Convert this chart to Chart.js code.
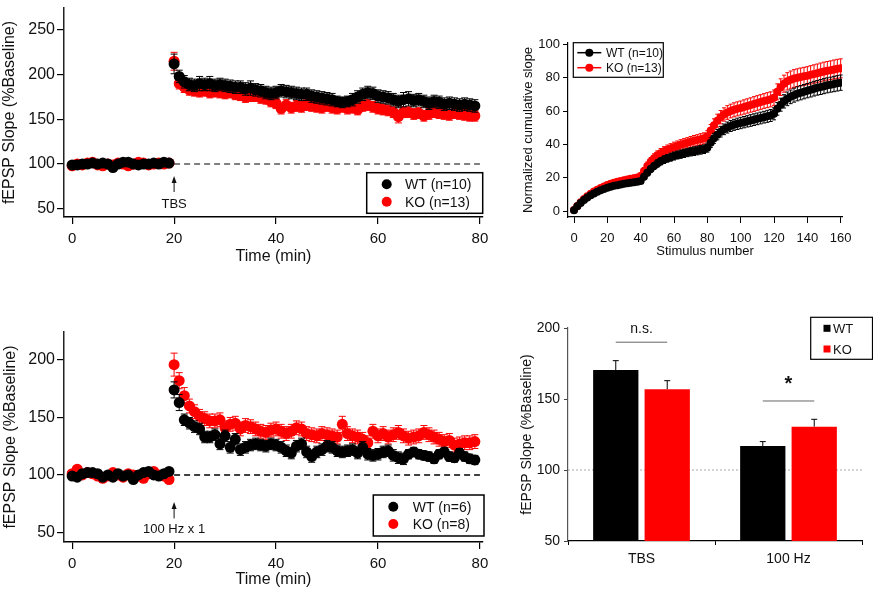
<!DOCTYPE html>
<html>
<head>
<meta charset="utf-8">
<script src="https://cdn.jsdelivr.net/npm/chart.js@4"></script>
<style>
  body { margin: 0; background: #fff; }
  #wrap { position: relative; width: 873px; height: 594px; overflow: hidden; }
  canvas { position: absolute; }
</style>
</head>
<body>
<div id="wrap">
  <canvas id="tbs" width="500" height="270" style="left:0;top:0"></canvas>
  <canvas id="cum" width="373" height="270" style="left:500px;top:0"></canvas>
  <canvas id="hfs" width="500" height="294" style="left:0;top:300px"></canvas>
  <canvas id="bars" width="373" height="294" style="left:500px;top:300px"></canvas>
</div>
<script>
// ---- data ----
const minutes = [
  0, 1, 2, 3, 4, 5, 6, 7, 8, 9, 10, 11, 12, 13, 14, 15, 16, 17, 18, 19,
  20, 21, 22, 23, 24, 25, 26, 27, 28, 29, 30, 31, 32, 33, 34, 35, 36, 37, 38, 39,
  40, 41, 42, 43, 44, 45, 46, 47, 48, 49, 50, 51, 52, 53, 54, 55, 56, 57, 58, 59,
  60, 61, 62, 63, 64, 65, 66, 67, 68, 69, 70, 71, 72, 73, 74, 75, 76, 77, 78, 79
];
const timeTicks = [0, 20, 40, 60, 80];
const baselineValue = 100;
const baselineSpan = [20, 80];

// TBS LTP (top left)
const tbsWT = [
  99, 99, 100, 100, 101, 100, 101, 100, 96, 100, 102, 102, 100, 99, 100, 100, 101, 100, 102, 101,
  212, 198, 192, 189, 188, 190, 189, 190, 188, 189, 188, 187, 186, 186, 184, 185, 183, 182, 180, 179,
  180, 182, 181, 180, 179, 178, 178, 176, 175, 174, 173, 172, 170, 169, 170, 172, 175, 178, 180, 179,
  176, 175, 174, 172, 170, 172, 173, 171, 172, 170, 168, 170, 169, 167, 168, 167, 166, 167, 166, 165
];
const tbsWTsem = [
  2, 2, 2, 2, 2, 2, 2, 2, 2, 2, 2, 2, 2, 2, 2, 2, 2, 2, 2, 2,
  11, 7, 7, 7, 7, 8, 7, 8, 7, 7, 7, 7, 7, 7, 7, 8, 7, 7, 7, 7,
  7, 7, 7, 7, 7, 7, 7, 7, 7, 7, 7, 7, 6, 6, 6, 7, 7, 7, 7, 7,
  7, 7, 7, 7, 7, 8, 8, 7, 7, 7, 7, 7, 7, 7, 7, 7, 7, 7, 7, 7
];
const tbsKO = [
  98, 100, 99, 101, 102, 99, 98, 100, 99, 101, 100, 98, 100, 102, 101, 99, 100, 101, 100, 101,
  215, 190, 186, 183, 182, 181, 182, 180, 181, 180, 179, 180, 178, 177, 175, 176, 176, 174, 173, 170,
  168, 162, 166, 163, 165, 164, 166, 165, 164, 163, 165, 163, 162, 164, 162, 163, 161, 165, 166, 164,
  162, 161, 160, 158, 153, 158, 158, 156, 157, 154, 156, 158, 157, 156, 155, 157, 156, 155, 154, 154
];
const tbsKOsem = [
  2, 2, 2, 2, 2, 2, 2, 2, 2, 2, 2, 2, 2, 2, 2, 2, 2, 2, 2, 2,
  10, 6, 6, 6, 6, 6, 6, 6, 6, 6, 6, 6, 6, 6, 6, 6, 6, 6, 6, 6,
  6, 6, 6, 6, 6, 6, 6, 6, 6, 6, 6, 6, 6, 6, 6, 6, 6, 6, 6, 6,
  6, 6, 6, 6, 7, 6, 6, 6, 6, 6, 6, 6, 6, 6, 6, 6, 6, 6, 6, 6
];
const tbsYTicks = [50, 100, 150, 200, 250];

// 100 Hz LTP (bottom left)
const hfsWT = [
  99, 98, 101, 102, 102, 101, 98, 100, 98, 101, 99, 100, 96, 100, 102, 103, 100, 99, 101, 103,
  174, 163, 148, 145, 142, 140, 133, 133, 135, 127, 134, 124, 131, 122, 124, 126, 127, 126, 125, 127,
  126, 124, 121, 119, 125, 127, 120, 116, 120, 122, 125, 124, 121, 120, 121, 122, 119, 124, 118, 117,
  118, 120, 121, 117, 115, 114, 118, 120, 118, 117, 116, 114, 118, 120, 116, 115, 119, 116, 114, 113
];
const hfsWTsem = [
  2, 2, 2, 2, 2, 2, 2, 2, 2, 2, 2, 2, 2, 2, 2, 2, 2, 2, 2, 2,
  7, 7, 5, 5, 5, 5, 5, 5, 5, 5, 5, 5, 5, 5, 5, 5, 5, 5, 5, 5,
  5, 5, 5, 5, 5, 5, 5, 5, 5, 5, 5, 5, 5, 5, 5, 5, 5, 5, 5, 5,
  5, 5, 5, 5, 5, 5, 4, 4, 4, 4, 4, 4, 4, 4, 4, 4, 4, 4, 4, 4
];
const hfsKO = [
  101, 105, 100, 102, 101, 99, 97, 99, 102, 100, 98, 101, 100, 99, 97, 101, 103, 100, 99, 96,
  196, 182, 169, 160, 155, 151, 149, 147, 147, 148, 141, 144, 145, 140, 143, 142, 140, 138, 137, 139,
  140, 138, 136, 138, 141, 140, 136, 135, 134, 136, 135, 134, 133, 144, 136, 134, 133, 131, 128, 138,
  134, 136, 133, 135, 137, 134, 132, 133, 134, 137, 135, 133, 131, 129, 130, 126, 127, 128, 128, 129
];
const hfsKOsem = [
  2, 2, 2, 2, 2, 2, 2, 2, 2, 2, 2, 2, 2, 2, 2, 2, 2, 2, 2, 2,
  10, 7, 7, 6, 6, 6, 6, 6, 6, 6, 6, 6, 6, 6, 6, 6, 6, 6, 6, 6,
  6, 6, 6, 6, 6, 6, 6, 6, 6, 6, 6, 6, 6, 7, 6, 6, 6, 6, 6, 6,
  6, 6, 6, 6, 6, 6, 6, 6, 6, 6, 6, 6, 6, 6, 6, 6, 6, 6, 6, 6
];
const hfsYTicks = [50, 100, 150, 200];

// cumulative slope during TBS (top right)
const stimNumber = [
  0, 2, 4, 6, 8, 10, 12, 14, 16, 18,
  20, 22, 24, 26, 28, 30, 32, 34, 36, 38,
  40, 42, 44, 46, 48, 50, 52, 54, 56, 58,
  60, 62, 64, 66, 68, 70, 72, 74, 76, 78,
  80, 82, 84, 86, 88, 90, 92, 94, 96, 98,
  100, 102, 104, 106, 108, 110, 112, 114, 116, 118,
  120, 122, 124, 126, 128, 130, 132, 134, 136, 138,
  140, 142, 144, 146, 148, 150, 152, 154, 156, 158,
  160
];
const cumWT = [
  0.5, 2.8, 4.8, 6.6, 8.1, 9.4, 10.5, 11.5, 12.4, 13.2,
  14, 14.6, 15.1, 15.5, 15.9, 16.3, 16.6, 16.9, 17.2, 17.5,
  18, 20.5, 23, 25.2, 27, 28.5, 29.8, 30.8, 31.6, 32.3,
  33, 33.6, 34.1, 34.6, 35.1, 35.5, 35.9, 36.3, 36.7, 37.1,
  38, 41, 43.6, 45.8, 47.6, 49, 50.1, 51, 51.7, 52.3,
  52.8, 53.3, 53.8, 54.3, 54.8, 55.3, 55.8, 56.3, 56.8, 57.3,
  58.3, 61.3, 63.8, 65.8, 67.3, 68.5, 69.5, 70.3, 71, 71.6,
  72.2, 72.8, 73.4, 73.9, 74.4, 74.9, 75.4, 75.8, 76.2, 76.6,
  77
];
const cumWTsem = [
  0.2, 0.4, 0.5, 0.6, 0.7, 0.8, 0.9, 1.0, 1.0, 1.1,
  1.1, 1.2, 1.2, 1.3, 1.3, 1.4, 1.4, 1.4, 1.5, 1.5,
  1.5, 1.7, 1.9, 2.0, 2.1, 2.2, 2.2, 2.3, 2.3, 2.4,
  2.4, 2.4, 2.5, 2.5, 2.5, 2.5, 2.6, 2.6, 2.6, 2.6,
  2.7, 2.9, 3.0, 3.1, 3.2, 3.2, 3.3, 3.3, 3.3, 3.4,
  3.4, 3.4, 3.4, 3.5, 3.5, 3.5, 3.5, 3.5, 3.6, 3.6,
  3.6, 3.8, 3.9, 4.0, 4.1, 4.1, 4.2, 4.2, 4.3, 4.3,
  4.3, 4.4, 4.4, 4.4, 4.5, 4.5, 4.5, 4.5, 4.6, 4.6,
  4.6
];
const cumKO = [
  0.6, 3, 5.2, 7.2, 8.9, 10.4, 11.7, 12.8, 13.8, 14.7,
  15.6, 16.3, 16.9, 17.5, 18, 18.5, 18.9, 19.3, 19.7, 20.1,
  21, 24, 27, 29.6, 31.7, 33.4, 34.7, 35.8, 36.7, 37.5,
  38.3, 39, 39.7, 40.3, 40.9, 41.5, 42.1, 42.6, 43.1, 43.6,
  44.8, 48.3, 51.5, 54.2, 56.3, 57.9, 59.1, 60, 60.7, 61.3,
  61.8, 62.4, 63, 63.6, 64.2, 64.8, 65.4, 66, 66.5, 67,
  68, 71.5, 74.3, 76.4, 77.8, 78.8, 79.5, 80, 80.4, 80.8,
  81.2, 81.7, 82.2, 82.7, 83.2, 83.7, 84.1, 84.5, 84.9, 85.3,
  85.6
];
const cumKOsem = [
  0.2, 0.5, 0.6, 0.8, 0.9, 1.0, 1.1, 1.2, 1.3, 1.3,
  1.4, 1.5, 1.5, 1.6, 1.6, 1.7, 1.7, 1.8, 1.8, 1.8,
  1.9, 2.1, 2.4, 2.5, 2.6, 2.7, 2.8, 2.8, 2.9, 2.9,
  3.0, 3.0, 3.1, 3.1, 3.1, 3.2, 3.2, 3.2, 3.3, 3.3,
  3.4, 3.6, 3.8, 3.9, 4.0, 4.0, 4.1, 4.1, 4.2, 4.2,
  4.2, 4.3, 4.3, 4.3, 4.4, 4.4, 4.4, 4.4, 4.5, 4.5,
  4.6, 4.8, 5.0, 5.1, 5.2, 5.2, 5.3, 5.3, 5.4, 5.4,
  5.4, 5.5, 5.5, 5.5, 5.6, 5.6, 5.6, 5.6, 5.7, 5.7,
  5.7
];
const stimTicks = [0, 20, 40, 60, 80, 100, 120, 140, 160];
const cumYTicks = [0, 20, 40, 60, 80, 100];

// summary bars (bottom right)
const protocols = ['TBS', '100 Hz'];
const barWT = [170.4, 116.9];
const barWTsem = [6.6, 3.1];
const barKO = [156.8, 130.5];
const barKOsem = [6.1, 5.2];
const barYTicks = [50, 100, 150, 200];
const sigLabels = ['n.s.', '*'];

// ---- drawing ----
const BLACK = '#000000';
const RED = '#ff0000';
const FONT = 'Arial, "Liberation Sans", Helvetica, sans-serif';
Chart.defaults.font.family = FONT;
Chart.defaults.color = '#111';

const pts = (xs, ys) => xs.map((x, i) => ({ x: x, y: ys[i] }));
const fixTicks = list => scale => { scale.ticks = list.map(v => ({ value: v })); };
const fixWidth = w => scale => { scale.width = w; scale.paddingTop = 0; scale.paddingBottom = 0; };
const fixHeight = h => scale => { scale.height = h; scale.paddingLeft = 0; scale.paddingRight = 0; };

// error bars drawn just before each dataset, so markers sit on top
const errorBars = {
  id: 'errorBars',
  beforeDatasetDraw(chart, args) {
    const ds = chart.data.datasets[args.index];
    if (!ds.errors) return;
    const ctx = chart.ctx;
    const ys = chart.scales.y;
    const half = ds.capWidth / 2;
    ctx.save();
    ctx.strokeStyle = ds.errorColor || ds.backgroundColor;
    ctx.lineWidth = 1;
    ctx.beginPath();
    args.meta.data.forEach((el, i) => {
      const v = args.meta.controller.getParsed(i).y;
      const e = ds.errors[i];
      const top = ys.getPixelForValue(v + e);
      const bot = ds.upOnly ? ys.getPixelForValue(v) : ys.getPixelForValue(v - e);
      ctx.moveTo(el.x, bot); ctx.lineTo(el.x, top);
      ctx.moveTo(el.x - half, top); ctx.lineTo(el.x + half, top);
      if (!ds.upOnly) { ctx.moveTo(el.x - half, bot); ctx.lineTo(el.x + half, bot); }
    });
    ctx.stroke();
    ctx.restore();
  }
};

function drawLegend(chart, L) {
  const ctx = chart.ctx;
  ctx.save();
  ctx.strokeStyle = '#000';
  ctx.lineWidth = L.lw;
  ctx.strokeRect(L.box[0], L.box[1], L.box[2] - L.box[0], L.box[3] - L.box[1]);
  ctx.font = L.font;
  ctx.textBaseline = 'middle';
  ctx.textAlign = 'left';
  L.rows.forEach((y, i) => {
    const ds = chart.data.datasets[i];
    ctx.fillStyle = ds.backgroundColor;
    ctx.strokeStyle = ds.backgroundColor;
    if (L.marker === 'square') {
      ctx.fillRect(L.mx - L.r, y - L.r, 2 * L.r, 2 * L.r);
    } else {
      if (L.marker === 'line') {
        ctx.lineWidth = 1.5;
        ctx.beginPath(); ctx.moveTo(L.mx - 12, y); ctx.lineTo(L.mx + 12, y); ctx.stroke();
      }
      ctx.beginPath(); ctx.arc(L.mx, y, L.r, 0, Math.PI * 2); ctx.fill();
    }
    ctx.fillStyle = '#111';
    ctx.fillText(ds.label, L.tx, y + 1);
  });
  ctx.restore();
}

function timeCourse(id, wt, wtSem, ko, koSem, o) {
  const extras = {
    id: 'extras',
    afterDatasetsDraw(chart) {
      const ctx = chart.ctx;
      const px = chart.scales.x.getPixelForValue(baselineSpan[0]);
      const base = chart.scales.y.getPixelForValue(baselineValue);
      ctx.save();
      ctx.strokeStyle = '#111';
      ctx.fillStyle = '#111';
      ctx.lineWidth = 1;
      ctx.beginPath();
      ctx.moveTo(px, base + o.arrow[1]); ctx.lineTo(px, base + o.arrow[0] + 5);
      ctx.stroke();
      ctx.beginPath();
      ctx.moveTo(px, base + o.arrow[0]);
      ctx.lineTo(px - 2.5, base + o.arrow[0] + 7);
      ctx.lineTo(px + 2.5, base + o.arrow[0] + 7);
      ctx.closePath(); ctx.fill();
      ctx.font = '13px ' + FONT;
      ctx.textAlign = 'center';
      ctx.textBaseline = 'middle';
      ctx.fillText(o.stim, px, base + o.arrow[2]);
      ctx.restore();
      drawLegend(chart, o.legend);
    }
  };
  return new Chart(document.getElementById(id), {
    type: 'scatter',
    data: {
      datasets: [
        { label: o.labels[0], data: pts(minutes, wt), errors: wtSem, capWidth: 7,
          backgroundColor: BLACK, borderColor: BLACK, pointRadius: 5.5, pointBorderWidth: 0 },
        { label: o.labels[1], data: pts(minutes, ko), errors: koSem, capWidth: 7,
          backgroundColor: RED, borderColor: RED, pointRadius: 5.5, pointBorderWidth: 0 },
        { label: 'baseline', data: pts(baselineSpan, [baselineValue, baselineValue]),
          showLine: true, pointRadius: 0, borderColor: o.dashColor, borderWidth: 1.5,
          borderDash: [6, 4] }
      ]
    },
    options: {
      responsive: false,
      animation: false,
      devicePixelRatio: 1,
      events: [],
      layout: { padding: { left: 0, top: o.top, right: 17, bottom: 0 } },
      plugins: { legend: { display: false }, tooltip: { enabled: false } },
      scales: {
        x: {
          type: 'linear', min: -1.6, max: 80.6,
          afterBuildTicks: fixTicks(timeTicks),
          afterFit: fixHeight(o.xh),
          grid: { drawOnChartArea: false, color: '#000', tickLength: 7, lineWidth: 1.2 },
          border: { color: '#000', width: 1.5 },
          ticks: { font: { size: 15 }, color: '#111', padding: 6, maxRotation: 0 },
          title: { display: true, text: 'Time (min)', font: { size: 16 }, color: '#111',
                   padding: { top: 0, bottom: o.xtPad } }
        },
        y: {
          min: o.ymin, max: o.ymax,
          afterBuildTicks: fixTicks(o.yticks),
          afterFit: fixWidth(64),
          grid: { drawOnChartArea: false, color: '#000', tickLength: 7, lineWidth: 1.2 },
          border: { color: '#222', width: 1.5 },
          ticks: { font: { size: 16 }, color: '#111', padding: 2 },
          title: { display: true, text: 'fEPSP Slope (%Baseline)', font: { size: 16 }, color: '#111',
                   padding: { top: o.ytPad, bottom: 0 } }
        }
      }
    },
    plugins: [errorBars, extras]
  });
}

timeCourse('tbs', tbsWT, tbsWTsem, tbsKO, tbsKOsem, {
  labels: ['WT (n=10)', 'KO (n=13)'],
  top: 8, xh: 53, xtPad: 3.4, ytPad: 0.4,
  ymin: 40.7, ymax: 274.6, yticks: tbsYTicks,
  dashColor: '#555', stim: 'TBS', arrow: [12, 28, 40],
  legend: { box: [366.7, 172.7, 482.7, 213.3], rows: [184.3, 201.7], mx: 386.7, tx: 405,
            r: 5, lw: 1.5, font: '14px ' + FONT, marker: 'circle' }
});

timeCourse('hfs', hfsWT, hfsWTsem, hfsKO, hfsKOsem, {
  labels: ['WT (n=6)', 'KO (n=8)'],
  top: 32, xh: 52, xtPad: 5.1, ytPad: 1.4,
  ymin: 41.6, ymax: 224.4, yticks: hfsYTicks,
  dashColor: '#000', stim: '100 Hz x 1', arrow: [27, 43.5, 54.5],
  legend: { box: [373.3, 195, 484, 236], rows: [206.7, 224], mx: 393.3, tx: 412.7,
            r: 5, lw: 1.5, font: '14px ' + FONT, marker: 'circle' }
});

// cumulative slope
new Chart(document.getElementById('cum'), {
  type: 'scatter',
  data: {
    datasets: [
      { label: 'WT (n=10)', data: pts(stimNumber, cumWT), errors: cumWTsem, capWidth: 4,
        showLine: true, borderWidth: 1, backgroundColor: BLACK, borderColor: BLACK,
        pointRadius: 4, pointBorderWidth: 0 },
      { label: 'KO (n=13)', data: pts(stimNumber, cumKO), errors: cumKOsem, capWidth: 4,
        showLine: true, borderWidth: 1, backgroundColor: RED, borderColor: RED,
        pointRadius: 4, pointBorderWidth: 0 }
    ]
  },
  options: {
    responsive: false,
    animation: false,
    devicePixelRatio: 1,
    events: [],
    layout: { padding: { left: 0, top: 43, right: 31, bottom: 0 } },
    plugins: { legend: { display: false }, tooltip: { enabled: false } },
    scales: {
      x: {
        type: 'linear', min: -3.6, max: 160.8,
        afterBuildTicks: fixTicks(stimTicks),
        afterFit: fixHeight(53),
        grid: { drawOnChartArea: false, color: '#000', tickLength: 6, lineWidth: 1 },
        border: { color: '#000', width: 1.2 },
        ticks: { font: { size: 13 }, color: '#111', padding: 7.5, maxRotation: 0 },
        title: { display: true, text: 'Stimulus number', font: { size: 13 }, color: '#111',
                 padding: { top: 0, bottom: 11 } }
      },
      y: {
        min: -3.6, max: 100.8,
        afterBuildTicks: fixTicks(cumYTicks),
        afterFit: fixWidth(68),
        grid: { drawOnChartArea: false, color: '#000', tickLength: 5, lineWidth: 1 },
        border: { color: '#000', width: 1.2 },
        ticks: { font: { size: 13 }, color: '#111', padding: 3 },
        title: { display: true, text: 'Normalized cumulative slope', font: { size: 13 }, color: '#111',
                 padding: { top: 20.5, bottom: 0 } }
      }
    }
  },
  plugins: [errorBars, {
    id: 'cumLegend',
    afterDatasetsDraw(chart) {
      drawLegend(chart, { box: [73.3, 42.7, 163.3, 77.3], rows: [52.7, 67.7], mx: 89.3, tx: 106,
                          r: 4, lw: 1.2, font: '12px ' + FONT, marker: 'line' });
    }
  }]
});

// summary bars
new Chart(document.getElementById('bars'), {
  type: 'bar',
  data: {
    labels: protocols,
    datasets: [
      { label: 'WT', data: barWT, errors: barWTsem, upOnly: true, capWidth: 6, errorColor: '#000',
        backgroundColor: BLACK, categoryPercentage: 0.7, barPercentage: 0.88 },
      { label: 'KO', data: barKO, errors: barKOsem, upOnly: true, capWidth: 6, errorColor: '#000',
        backgroundColor: RED, categoryPercentage: 0.7, barPercentage: 0.88 }
    ]
  },
  options: {
    responsive: false,
    animation: false,
    devicePixelRatio: 1,
    events: [],
    layout: { padding: { left: 0, top: 28, right: 11, bottom: 0 } },
    plugins: { legend: { display: false }, tooltip: { enabled: false } },
    scales: {
      x: {
        afterFit: fixHeight(53),
        grid: { drawOnChartArea: false, color: '#000', tickLength: 4, lineWidth: 1 },
        border: { color: '#000', width: 1.2 },
        ticks: { font: { size: 14 }, color: '#111', padding: 6 }
      },
      y: {
        min: 50, max: 200,
        afterBuildTicks: fixTicks(barYTicks),
        afterFit: fixWidth(68),
        grid: { drawOnChartArea: false, color: '#444', tickLength: 4, lineWidth: 1 },
        border: { color: '#555', width: 1.2 },
        ticks: { font: { size: 14 }, color: '#111', padding: 4 },
        title: { display: true, text: 'fEPSP Slope (%Baseline)', font: { size: 14 }, color: '#111',
                 padding: { top: 18.3, bottom: 0 } }
      }
    }
  },
  plugins: [errorBars, {
    id: 'barExtras',
    beforeDatasetsDraw(chart) {
      const ctx = chart.ctx, a = chart.chartArea;
      const y = chart.scales.y.getPixelForValue(baselineValue);
      ctx.save();
      ctx.strokeStyle = '#aaa';
      ctx.lineWidth = 1;
      ctx.setLineDash([2, 2]);
      ctx.beginPath(); ctx.moveTo(a.left, y); ctx.lineTo(a.right, y); ctx.stroke();
      ctx.restore();
    },
    afterDatasetsDraw(chart) {
      const ctx = chart.ctx, ys = chart.scales.y;
      const wt = chart.getDatasetMeta(0).data, ko = chart.getDatasetMeta(1).data;
      const lineAt = [190, 148.6], textAt = [199, 160];
      ctx.save();
      ctx.strokeStyle = '#666';
      ctx.fillStyle = '#111';
      ctx.lineWidth = 1;
      ctx.textAlign = 'center';
      ctx.textBaseline = 'middle';
      sigLabels.forEach((s, i) => {
        const ly = ys.getPixelForValue(lineAt[i]);
        ctx.beginPath(); ctx.moveTo(wt[i].x, ly); ctx.lineTo(ko[i].x, ly); ctx.stroke();
        ctx.font = s === '*' ? 'bold 20px ' + FONT : '14px ' + FONT;
        ctx.fillText(s, (wt[i].x + ko[i].x) / 2, ys.getPixelForValue(textAt[i]));
      });
      ctx.restore();
      drawLegend(chart, { box: [310.7, 17.3, 372.5, 59.3], rows: [28.3, 49], mx: 327, tx: 333,
                          r: 3.5, lw: 1.2, font: '13px ' + FONT, marker: 'square' });
    }
  }]
});
</script>
</body>
</html>
